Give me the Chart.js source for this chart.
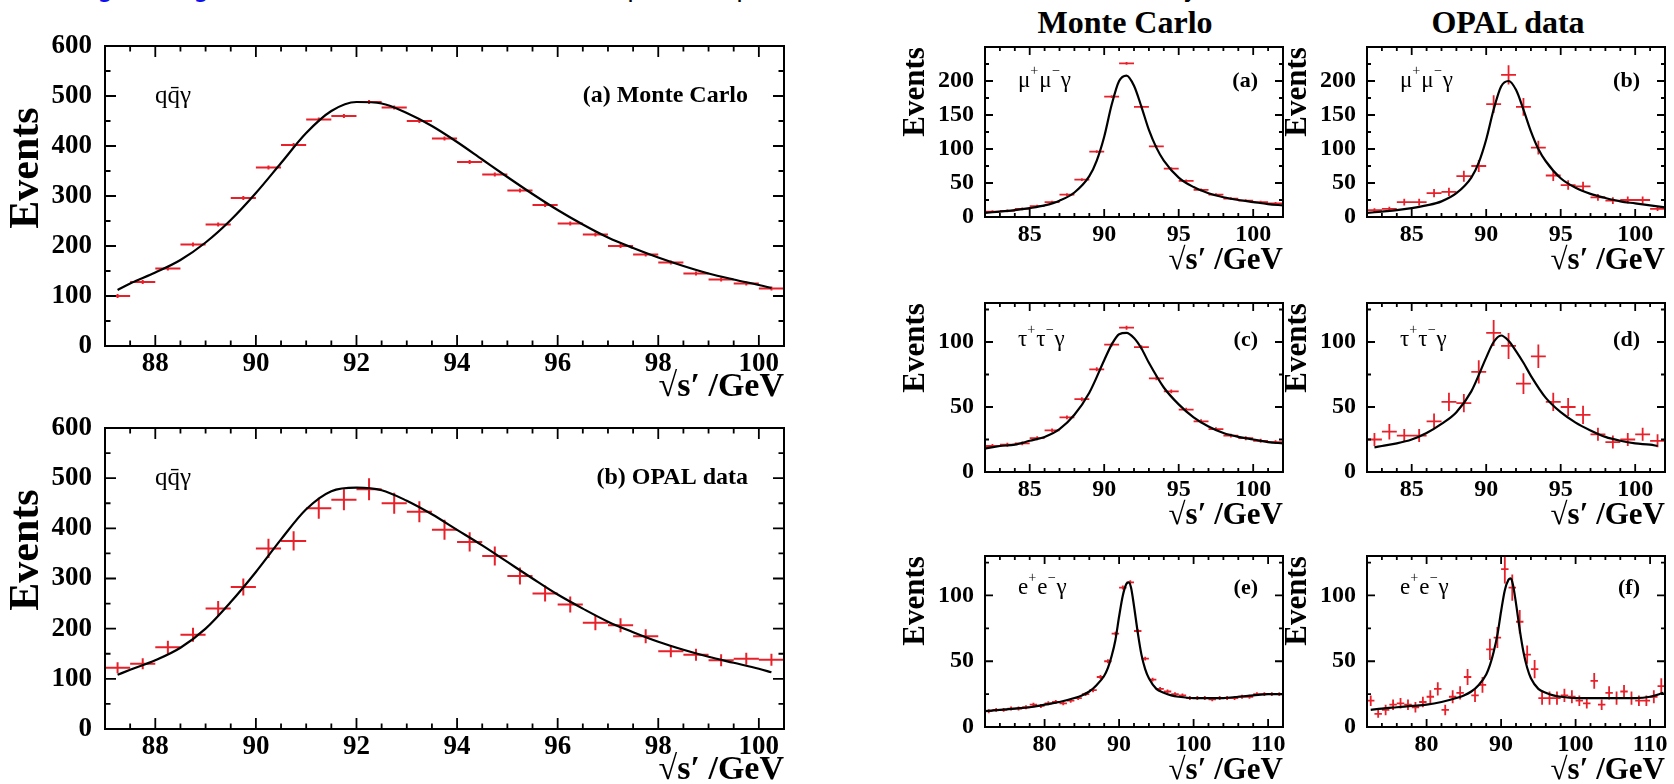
<!DOCTYPE html>
<html>
<head>
<meta charset="utf-8">
<script src="https://cdn.jsdelivr.net/npm/chart.js@4.4.1/dist/chart.umd.min.js"></script>
<style>
body{margin:0;background:#fff;width:1674px;height:784px;position:relative;overflow:hidden;font-family:"Liberation Serif",serif}
canvas{position:absolute}
.frag{position:absolute;top:-26px;font:26px "DejaVu Sans",sans-serif;line-height:26px;color:#000;white-space:pre}
.blue{color:#1010ee}
.head{position:absolute;top:6px;font:bold 32px "Liberation Serif",serif;line-height:32px;transform:translateX(-50%);white-space:nowrap}
</style>
</head>
<body>

<span class="frag blue" style="left:97px">g</span>
<span class="frag blue" style="left:193px">g</span>
<span class="frag" style="left:279px">(</span>
<span class="frag" style="left:627px">p</span>
<span class="frag" style="left:736px">p</span>
<span class="frag" style="left:1183px">y)</span>

<div class="head" style="left:1125px">Monte Carlo</div>
<div class="head" style="left:1508px">OPAL data</div>

<script>
// ---------- q qbar gamma, 0.5 GeV bins ----------
const qqBins=[87.25,87.75,88.25,88.75,89.25,89.75,90.25,90.75,91.25,91.75,92.25,92.75,93.25,93.75,94.25,94.75,95.25,95.75,96.25,96.75,97.25,97.75,98.25,98.75,99.25,99.75,100.25];
const qqMc=[100,128,155,203,243,296,357,402,453,460,488,477,450,415,368,343,311,282,245,223,200,183,167,145,133,125,115];
const qqData=[122,130,163,188,240,283,360,375,440,457,478,450,433,397,373,345,305,270,248,212,207,185,155,148,137,140,138];
const qqDataErr=[11,11,13,14,15,17,19,19,21,21,22,21,21,20,19,19,17,16,16,15,14,14,12,12,12,12,12];
const qqFitX=[87.25,87.5,88,88.5,89,89.5,90,90.5,91,91.5,92,92.5,93,93.5,94,94.5,95,95.5,96,96.5,97,97.5,98,98.5,99,99.5,100,100.25];
const qqMcFit=[112,125,147,172,207,252,306,366,426,470,488,485,466,440,408,373,338,304,272,243,217,196,177,160,145,133,122,116];
const qqDataFit=[108,118,137,162,200,253,313,378,438,474,481,476,455,428,397,366,333,300,268,240,214,193,174,158,144,132,120,113];
const qqXTicks=[88,90,92,94,96,98,100];
const qqYTicks=[0,100,200,300,400,500,600];

// ---------- mu mu gamma and tau tau gamma, 1 GeV bins ----------
const zBins=[82.5,83.5,84.5,85.5,86.5,87.5,88.5,89.5,90.5,91.5,92.5,93.5,94.5,95.5,96.5,97.5,98.5,99.5,100.5,101.5];
const zXTicks=[85,90,95,100];

const mumuMc=[8,9,12,16,22,33,55,96,177,226,162,104,71,53,40,33,27,24,22,20];
const mumuData=[10,12,22,22,35,37,60,75,166,209,162,102,61,47,45,29,24,25,25,12];
const mumuErr=[3,3,5,5,6,6,8,9,13,14,13,10,8,7,7,5,5,5,5,3];
const mumuFitX=[82,83,84,85,86,87,88,89,89.5,90,90.5,91,91.5,92,92.5,93,93.5,94,95,96,97,98,99,100,101,102];
const mumuMcFit=[6,8,10,13,17,24,36,60,83,118,165,200,208,193,162,128,102,83,58,44,35,29,25,22,19,17];
const mumuDataFit=[6,8,10,13,17,23,35,58,80,114,158,192,200,187,158,126,100,82,57,43,34,28,23,20,17,14];
const mumuYTicks=[0,50,100,150,200];

const tautauMc=[20,21,22,26,32,42,56,79,98,111,96,72,62,48,39,33,28,26,24,23];
const tautauData=[25,31,28,28,39,54,53,77,107,97,68,89,54,50,44,29,23,25,29,24];
const tautauErr=[5,6,5,5,6,7,7,9,10,10,8,9,7,7,7,5,5,5,5,5];
const tautauMcFitX=[82,83,84,85,86,87,88,89,90,90.5,91,91.5,92,92.5,93,94,95,96,97,98,99,100,101,102];
const tautauMcFit=[18,20,21,24,27,33,44,61,86,98,106,107,103,95,84,65,52,42,35,30,27,25,23,22];
const tautauDataFitX=[82.5,83,84,85,86,87,88,89,90,90.5,91,91.5,92,92.5,93,94,95,96,97,98,99,100,101,101.5];
const tautauDataFit=[19,20,22,25,30,37,46,62,88,100,105,101,93,84,74,57,46,38,32,27,24,22,21,20];
const tautauYTicks=[0,50,100];

// ---------- e e gamma, 1 GeV bins ----------
const eeBins=[72.5,73.5,74.5,75.5,76.5,77.5,78.5,79.5,80.5,81.5,82.5,83.5,84.5,85.5,86.5,87.5,88.5,89.5,90.5,91.5,92.5,93.5,94.5,95.5,96.5,97.5,98.5,99.5,100.5,101.5,102.5,103.5,104.5,105.5,106.5,107.5,108.5,109.5,110.5,111.5];
const eeMc=[12,13,13,14,14,15,17,16,18,19,18,20,22,25,28,38,50,71,106,110,73,52,36,29,27,25,24,22,22,22,21,22,22,22,23,23,25,25,25,25];
const eeData=[20,10,13,17,18,17,15,19,23,29,13,23,26,38,24,32,59,68,120,106,80,55,44,22,22,22,24,23,20,18,35,17,26,22,27,22,20,20,23,31];
const eeErr=[4,3,4,4,4,4,4,4,5,5,4,5,5,6,5,6,8,8,11,10,9,7,7,5,5,5,5,5,4,4,6,4,5,5,5,5,4,4,5,6];
const eeMcFitX=[72,74,76,78,80,82,84,85,86,87,88,88.5,89,89.5,90,90.5,91,91.3,91.6,92,92.5,93,93.5,94,95,96,97,98,100,102,104,106,108,110,112];
const eeMcFit=[12,13,14,15,17,19,22,24,27,32,39,45,54,66,84,100,109,110,106,92,72,55,44,37,29,26,24,23,22,22,22,23,24,25,25];
const eeDataFitX=[72.5,74,76,78,80,82,84,85,86,87,88,88.5,89,89.5,90,90.5,91,91.3,91.6,92,92.5,93,93.5,94,95,96,97,98,100,102,104,106,108,110,111.8];
const eeDataFit=[13,14,15,16,17,19,22,24,27,32,40,47,57,70,88,104,112,113,108,94,74,57,45,37,29,26,24,23,22,22,22,22,22,23,26];
const eeXTicks=[80,90,100,110];
const eeYTicks=[0,50,100];

const RED="#e8202a";
const SERIF='"Liberation Serif", "DejaVu Serif", serif';

// ---------- frame with inward ticks on all four sides ----------
const rootFrame={
  id:"rootFrame",
  afterDraw(chart){
    const o=chart.options.plugins.rootFrame;
    const {ctx,chartArea:a,scales:{x,y}}=chart;
    ctx.save();
    ctx.strokeStyle="#000";
    ctx.lineWidth=o.lw;
    ctx.strokeRect(a.left,a.top,a.right-a.left,a.bottom-a.top);
    ctx.lineWidth=o.tw;
    ctx.beginPath();
    const isMajor=(v,m)=>Math.abs(v/m-Math.round(v/m))<1e-6;
    for(let k=Math.ceil(x.min/o.xMinor);k*o.xMinor<=x.max+1e-9;k++){
      const v=k*o.xMinor, px=x.getPixelForValue(v);
      if(px<=a.left+1||px>=a.right-1) continue;
      const L=isMajor(v,o.xMajor)?o.major:o.minor;
      ctx.moveTo(px,a.bottom);ctx.lineTo(px,a.bottom-L);
      ctx.moveTo(px,a.top);ctx.lineTo(px,a.top+L);
    }
    for(let k=Math.ceil(y.min/o.yMinor);k*o.yMinor<=y.max+1e-9;k++){
      const v=k*o.yMinor, py=y.getPixelForValue(v);
      if(py<=a.top+1||py>=a.bottom-1) continue;
      const L=isMajor(v,o.yMajor)?o.major:o.minor;
      ctx.moveTo(a.left,py);ctx.lineTo(a.left+L,py);
      ctx.moveTo(a.right,py);ctx.lineTo(a.right-L,py);
    }
    ctx.stroke();
    ctx.restore();
  }
};

// ---------- histogram points as crosses (bin width x error) ----------
const crosses={
  id:"crosses",
  afterDatasetDraw(chart,args){
    const ds=chart.data.datasets[args.index];
    if(!ds.crosses) return;
    const {ctx,chartArea:a,scales:{x,y}}=chart;
    ctx.save();
    ctx.beginPath();
    ctx.rect(a.left,a.top,a.right-a.left,a.bottom-a.top);
    ctx.clip();
    ctx.strokeStyle=RED;
    ctx.lineWidth=ds.crossWidth;
    ctx.beginPath();
    args.meta.data.forEach((pt,i)=>{
      const d=ds.data[i];
      const e=ds.errors?ds.errors[i]:ds.err;
      ctx.moveTo(x.getPixelForValue(d.x-ds.halfWidth),pt.y);
      ctx.lineTo(x.getPixelForValue(d.x+ds.halfWidth),pt.y);
      ctx.moveTo(pt.x,y.getPixelForValue(d.y-e));
      ctx.lineTo(pt.x,y.getPixelForValue(d.y+e));
    });
    ctx.stroke();
    ctx.restore();
  }
};

// ---------- axis titles, channel tag and panel label ----------
const panelText={
  id:"panelText",
  afterDraw(chart){
    const o=chart.options.plugins.panelText;
    const {ctx,chartArea:a}=chart;
    ctx.save();
    ctx.fillStyle="#000";
    ctx.textBaseline="middle";

    // "Events", rotated, placed from the frame's top-left corner
    ctx.save();
    ctx.translate(a.left-o.yTitleDx,a.top+o.yTitleDy);
    ctx.rotate(-Math.PI/2);
    ctx.font="bold "+o.yTitleSize+"px "+SERIF;
    ctx.textAlign="center";
    ctx.fillText("Events",0,0);
    ctx.restore();

    // sqrt(s') axis title, right aligned under the frame
    ctx.font="bold "+o.xTitleSize+"px "+SERIF;
    ctx.textAlign="right";
    ctx.fillText("\u221As\u2032 /GeV",a.right,a.bottom+o.xTitleDy);

    // channel tag, pieces can be raised
    let cx=a.left+o.tagX;
    const cy=a.top+o.tagY;
    o.tag.forEach(p=>{
      const sz=p[1]?o.tagSize*0.62:o.tagSize;
      ctx.font=sz+"px "+SERIF;
      ctx.textAlign="left";
      ctx.fillText(p[0],cx,p[1]?cy-o.tagSize*0.42:cy);
      cx+=ctx.measureText(p[0]).width+(p[1]?1:0);
    });
    ctx.font="bold "+o.labelSize+"px "+SERIF;
    ctx.textAlign="right";
    ctx.fillText(o.label,a.right-o.labelR,cy);
    ctx.restore();
  }
};

function makePanel(p){
  const [l,t,r,b]=p.frame;
  const cx=l-p.axisW, cy=t-30, cw=(r+40)-cx, ch=(b+p.below)-cy;
  const cv=document.createElement("canvas");
  cv.style.left=cx+"px";
  cv.style.top=cy+"px";
  cv.style.width=cw+"px";
  cv.style.height=ch+"px";
  cv.width=cw;cv.height=ch;
  document.body.appendChild(cv);

  const fitPts=p.fitX.map((v,i)=>({x:v,y:p.fitY[i]}));
  const histPts=p.bins.map((v,i)=>({x:v,y:p.vals[i]}));

  return new Chart(cv,{
    type:"scatter",
    data:{
      datasets:[
        {data:fitPts,showLine:true,borderColor:"#000",borderWidth:p.fitW,pointRadius:0,cubicInterpolationMode:"monotone",clip:0},
        {data:histPts,pointRadius:0,showLine:false,crosses:true,errors:p.errs,err:p.err,halfWidth:p.halfWidth,crossWidth:p.crossW}
      ]
    },
    options:{
      responsive:false,
      animation:false,
      events:[],
      layout:{padding:{left:0,top:30,right:40,bottom:0}},
      plugins:{
        legend:{display:false},
        tooltip:{enabled:false},
        rootFrame:{lw:2,tw:1.8,major:p.tickL,minor:p.tickL*0.5,xMajor:p.xMajor,xMinor:p.xMinor,yMajor:p.yMajor,yMinor:p.yMinor},
        panelText:{tag:p.tag,tagX:p.tagX,tagY:p.tagY,tagSize:p.tagSize,label:p.label,labelR:p.labelR,labelSize:p.labelSize,
          yTitleDx:p.yTitleDx,yTitleDy:p.yTitleDy,yTitleSize:p.yTitleSize,xTitleDy:p.xTitleDy,xTitleSize:p.xTitleSize}
      },
      scales:{
        x:{
          type:"linear",min:p.xRange[0],max:p.xRange[1],
          grid:{display:false,drawTicks:false},
          border:{display:false},
          afterFit(s){s.height=p.below;},
          afterBuildTicks(s){s.ticks=p.xTicks.map(v=>({value:v}));},
          ticks:{color:"#000",padding:p.xPad,maxRotation:0,font:{family:SERIF,weight:"bold",size:p.tickSize,lineHeight:1}}
        },
        y:{
          type:"linear",min:p.yRange[0],max:p.yRange[1],
          grid:{display:false,drawTicks:false},
          border:{display:false},
          afterFit(s){s.width=p.axisW;},
          afterBuildTicks(s){s.ticks=p.yTicks.map(v=>({value:v}));},
          ticks:{color:"#000",padding:p.yPad,font:{family:SERIF,weight:"bold",size:p.tickSize,lineHeight:1}}
        }
      }
    },
    plugins:[rootFrame,crosses,panelText]
  });
}

// big q qbar gamma panels
const qqTag=[["q"],["q\u0304"],["\u03B3"]];
const bigStyle={axisW:105,below:64,xRange:[87,100.5],yRange:[0,600],xTicks:qqXTicks,yTicks:qqYTicks,
  xMajor:2,xMinor:0.5,yMajor:100,yMinor:50,tickL:11,tickSize:27,
  xTitleSize:34,xTitleDy:41,yTitleSize:42,yTitleDx:78,yTitleDy:122,
  xPad:5,yPad:13,halfWidth:0.25,crossW:2,fitW:2.2,
  tag:qqTag,tagX:50,tagY:50,tagSize:25,labelR:36,labelSize:24};

makePanel(Object.assign({},bigStyle,{frame:[105,46,784,346],bins:qqBins,vals:qqMc,err:4,fitX:qqFitX,fitY:qqMcFit,label:"(a) Monte Carlo"}));
makePanel(Object.assign({},bigStyle,{frame:[105,428,784,729],bins:qqBins,vals:qqData,errs:qqDataErr,fitX:qqFitX,fitY:qqDataFit,label:"(b) OPAL data"}));

// small panels, Monte Carlo left column, OPAL data right column
const smallStyle={axisW:85,below:64,xMinor:1,xMajor:5,yMajor:50,yMinor:25,tickL:8,tickSize:24,
  xTitleSize:31,xTitleDy:44,yTitleSize:31,yTitleDx:69,yTitleDy:45,
  xPad:6,yPad:11,halfWidth:0.5,crossW:1.8,fitW:2.2,tagX:33,tagSize:23,labelR:25,labelSize:22};
const mumuTag=[["\u03BC"],["+",1],["\u03BC"],["\u2212",1],["\u03B3"]];
const tautauTag=[["\u03C4"],["+",1],["\u03C4"],["\u2212",1],["\u03B3"]];
const eeTag=[["e"],["+",1],["e"],["\u2212",1],["\u03B3"]];

const muSet={xRange:[82,102],yRange:[0,250],xTicks:zXTicks,yTicks:mumuYTicks,bins:zBins,tag:mumuTag,tagY:34};
const tauSet={xRange:[82,102],yRange:[0,130],xTicks:zXTicks,yTicks:tautauYTicks,bins:zBins,tag:tautauTag,tagY:37};
const eeSet={xRange:[72,112],yRange:[0,130],xTicks:eeXTicks,yTicks:eeYTicks,bins:eeBins,tag:eeTag,tagY:32,xMajor:10,xMinor:2};

makePanel(Object.assign({},smallStyle,muSet,{frame:[985,47,1283,217],vals:mumuMc,err:2,fitX:mumuFitX,fitY:mumuMcFit,label:"(a)"}));
makePanel(Object.assign({},smallStyle,muSet,{frame:[1367,47,1665,217],vals:mumuData,errs:mumuErr,fitX:mumuFitX,fitY:mumuDataFit,label:"(b)"}));
makePanel(Object.assign({},smallStyle,tauSet,{frame:[985,303,1283,472],vals:tautauMc,err:1.5,fitX:tautauMcFitX,fitY:tautauMcFit,label:"(c)"}));
makePanel(Object.assign({},smallStyle,tauSet,{frame:[1367,303,1665,472],vals:tautauData,errs:tautauErr,fitX:tautauDataFitX,fitY:tautauDataFit,label:"(d)"}));
makePanel(Object.assign({},smallStyle,eeSet,{frame:[985,556,1283,727],vals:eeMc,err:1.5,fitX:eeMcFitX,fitY:eeMcFit,label:"(e)"}));
makePanel(Object.assign({},smallStyle,eeSet,{frame:[1367,556,1665,727],vals:eeData,errs:eeErr,fitX:eeDataFitX,fitY:eeDataFit,label:"(f)"}));
</script>
</body>
</html>
